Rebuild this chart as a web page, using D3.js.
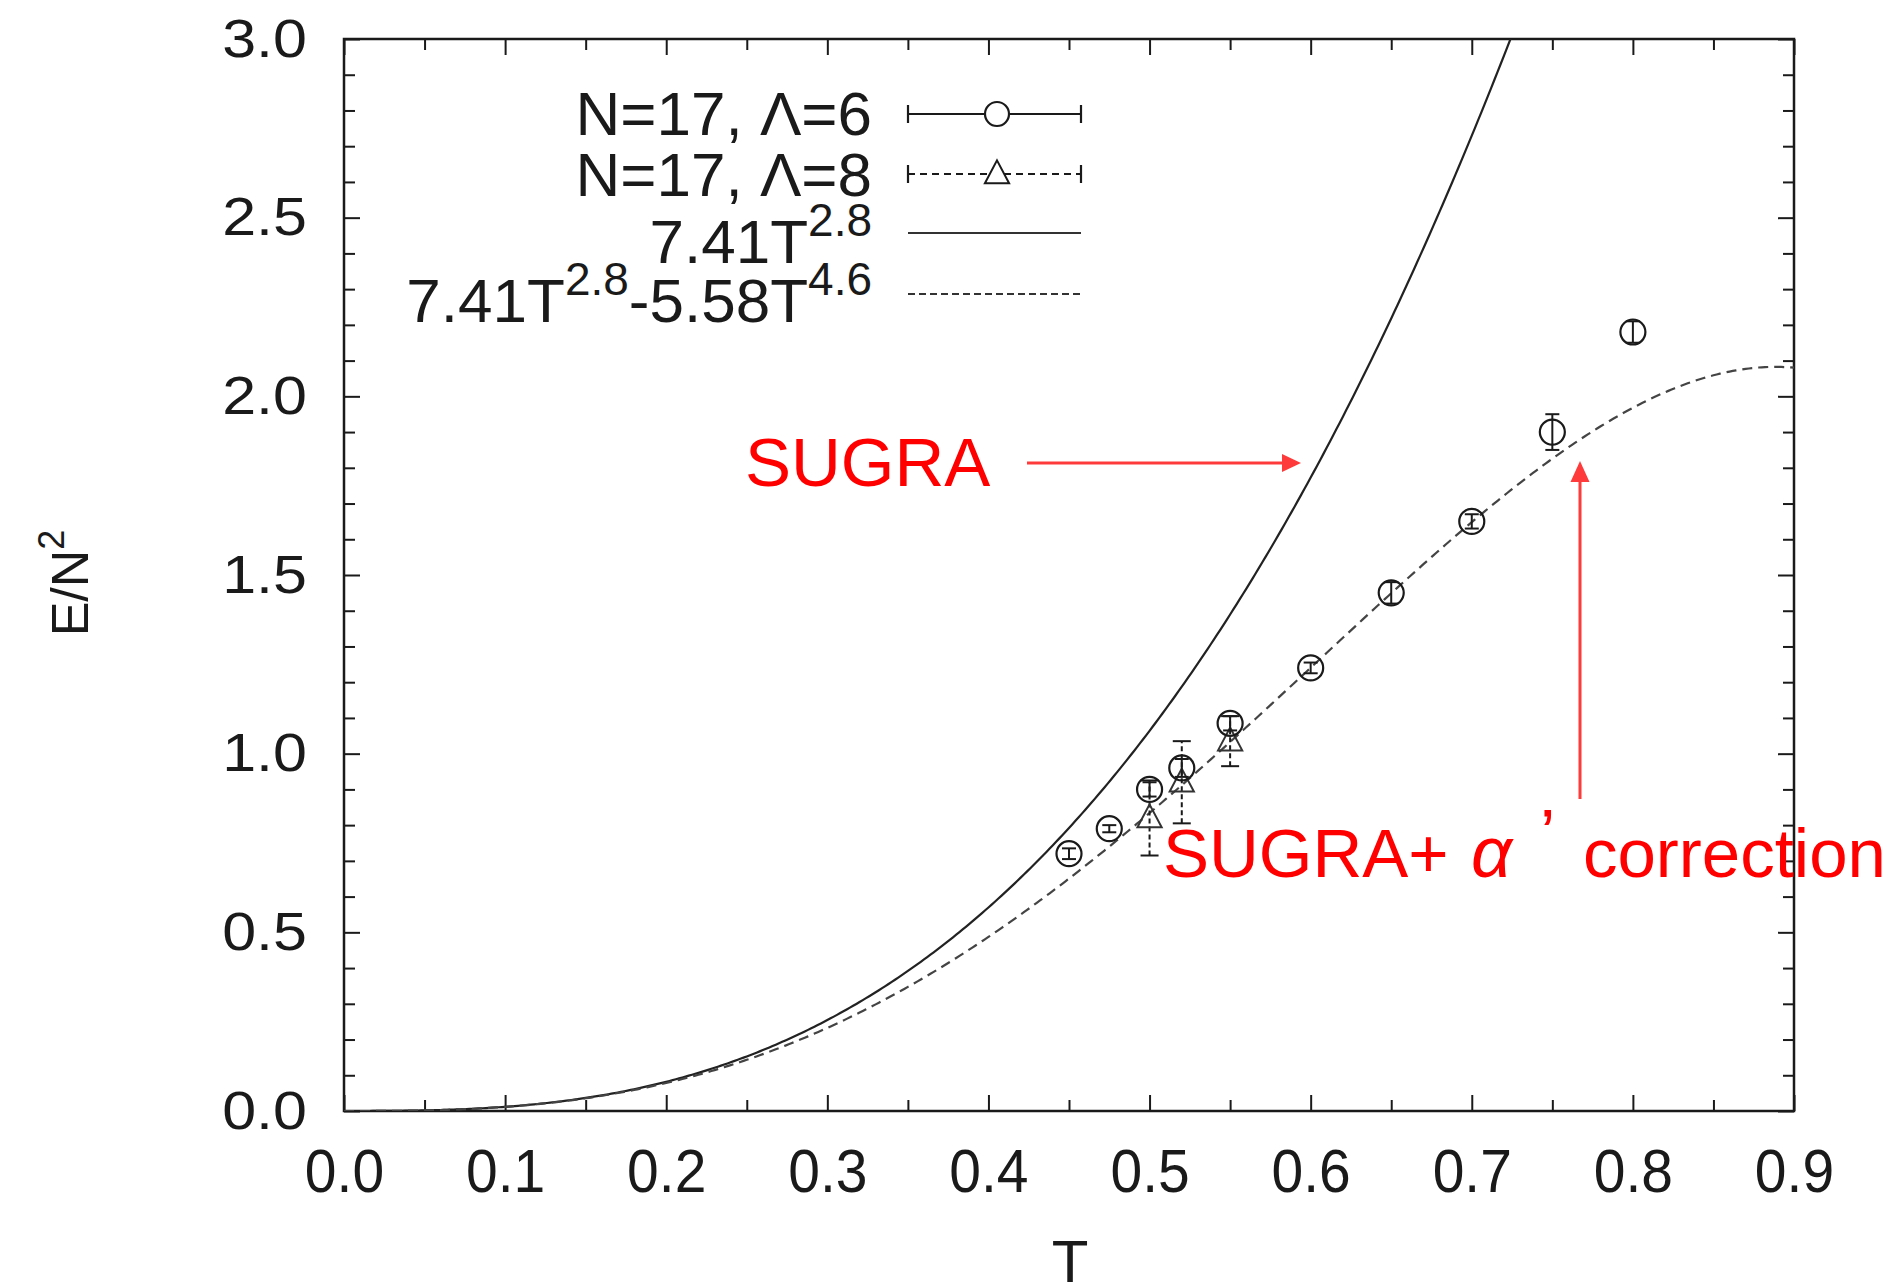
<!DOCTYPE html>
<html>
<head>
<meta charset="utf-8">
<script src="https://cdn.jsdelivr.net/npm/d3@7/dist/d3.min.js"></script>
<style>
  html, body { margin: 0; padding: 0; background: #fff; }
  svg { display: block; }
  text { font-family: "Liberation Sans", Arial, Helvetica, sans-serif; }
</style>
</head>
<body>
<svg id="chart" width="1894" height="1283"></svg>
<script>
// Lattice data: energy density E/N^2 versus temperature T
const tempL6 = [0.45, 0.475, 0.50, 0.52, 0.55, 0.60, 0.65, 0.70, 0.75, 0.80];
const energyL6 = [0.72, 0.79, 0.90, 0.96, 1.085, 1.24, 1.45, 1.65, 1.90, 2.18];
const errorL6 = [0.015, 0.01, 0.02, 0.025, 0.02, 0.015, 0.03, 0.02, 0.05, 0.03];

const tempL8 = [0.50, 0.52, 0.55];
const energyL8 = [0.82, 0.92, 1.035];
const errorL8 = [0.105, 0.115, 0.07];

// Fit curves: a*T^p  and  a*T^p - b*T^q
const sugraCoef = [7.41, 2.8];
const correctedCoef = [7.41, 2.8, 5.58, 4.6];

const xMajorTicks = [0.0, 0.1, 0.2, 0.3, 0.4, 0.5, 0.6, 0.7, 0.8, 0.9];
const xMinorTicks = [0.05, 0.15, 0.25, 0.35, 0.45, 0.55, 0.65, 0.75, 0.85];
const yMajorTicks = [0.0, 0.5, 1.0, 1.5, 2.0, 2.5, 3.0];
const yMinorTicks = [0.1, 0.2, 0.3, 0.4, 0.6, 0.7, 0.8, 0.9, 1.1, 1.2, 1.3, 1.4,
                     1.6, 1.7, 1.8, 1.9, 2.1, 2.2, 2.3, 2.4, 2.6, 2.7, 2.8, 2.9];

const svg = d3.select("#chart");
const plotL = 344, plotR = 1794, plotT = 39, plotB = 1111;

const x = d3.scaleLinear().domain([0, 0.9]).range([plotL, plotR]);
const y = d3.scaleLinear().domain([0, 3]).range([plotB, plotT]);

const ink = "#1a1a1a";

svg.append("defs").append("clipPath").attr("id", "plotClip")
  .append("rect").attr("x", plotL).attr("y", plotT)
  .attr("width", plotR - plotL).attr("height", plotB - plotT);

// ---- axes (ticks point inward, mirrored on all four sides) ----
function styleAxis(g) {
  g.select(".domain").remove();
  g.selectAll(".tick line").attr("stroke", ink).attr("stroke-width", 2);
}

const MAJ = 16, MIN = 11;

svg.append("g").attr("transform", `translate(0,${plotB})`)
  .call(d3.axisBottom(x).tickValues(xMajorTicks).tickSizeInner(-MAJ).tickSizeOuter(0)
    .tickPadding(37).tickFormat(d3.format(".1f")))
  .call(styleAxis)
  .call(g => g.selectAll("text")
    .attr("fill", ink).attr("font-size", 62)
    .attr("font-family", "'Liberation Sans', Arial, sans-serif")
    .attr("transform", "scale(0.92,1)"));

svg.append("g").attr("transform", `translate(0,${plotB})`)
  .call(d3.axisBottom(x).tickValues(xMinorTicks).tickSizeInner(-MIN).tickSizeOuter(0).tickFormat(""))
  .call(styleAxis);

svg.append("g").attr("transform", `translate(0,${plotT})`)
  .call(d3.axisTop(x).tickValues(xMajorTicks).tickSizeInner(-MAJ).tickSizeOuter(0).tickFormat(""))
  .call(styleAxis);
svg.append("g").attr("transform", `translate(0,${plotT})`)
  .call(d3.axisTop(x).tickValues(xMinorTicks).tickSizeInner(-MIN).tickSizeOuter(0).tickFormat(""))
  .call(styleAxis);

const ySx = 1.13;
svg.append("g").attr("transform", `translate(${plotL},0)`)
  .call(d3.axisLeft(y).tickValues(yMajorTicks).tickSizeInner(-MAJ).tickSizeOuter(0)
    .tickFormat(d3.format(".1f")))
  .call(styleAxis)
  .call(g => g.selectAll("text")
    .attr("fill", ink).attr("font-size", 54)
    .attr("font-family", "'Liberation Sans', Arial, sans-serif")
    .attr("x", -37 / ySx)
    .attr("transform", `scale(${ySx},1)`));
svg.append("g").attr("transform", `translate(${plotL},0)`)
  .call(d3.axisLeft(y).tickValues(yMinorTicks).tickSizeInner(-MIN).tickSizeOuter(0).tickFormat(""))
  .call(styleAxis);

svg.append("g").attr("transform", `translate(${plotR},0)`)
  .call(d3.axisRight(y).tickValues(yMajorTicks).tickSizeInner(-MAJ).tickSizeOuter(0).tickFormat(""))
  .call(styleAxis);
svg.append("g").attr("transform", `translate(${plotR},0)`)
  .call(d3.axisRight(y).tickValues(yMinorTicks).tickSizeInner(-MIN).tickSizeOuter(0).tickFormat(""))
  .call(styleAxis);

// frame
svg.append("rect").attr("x", plotL).attr("y", plotT)
  .attr("width", plotR - plotL).attr("height", plotB - plotT)
  .attr("fill", "none").attr("stroke", ink).attr("stroke-width", 2.5);

// axis titles
const yTitle = svg.append("text")
  .attr("transform", "translate(88,583) rotate(-90)")
  .attr("text-anchor", "middle").attr("font-size", 52).attr("fill", ink);
yTitle.append("tspan").text("E/N");
yTitle.append("tspan").attr("font-size", 36).attr("dy", -24).text("2");

svg.append("text").attr("x", 1070).attr("y", 1282)
  .attr("text-anchor", "middle").attr("font-size", 60).attr("fill", ink).text("T");

// ---- fit curves ----
const tGrid = d3.range(0, 0.9001, 0.002);
const sugra = t => sugraCoef[0] * Math.pow(t, sugraCoef[1]);
const corrected = t => correctedCoef[0] * Math.pow(t, correctedCoef[1])
                     - correctedCoef[2] * Math.pow(t, correctedCoef[3]);

const line = f => d3.line().x(t => x(t)).y(t => y(f(t)))(tGrid);

const curves = svg.append("g").attr("clip-path", "url(#plotClip)");
curves.append("path").attr("d", line(sugra))
  .attr("fill", "none").attr("stroke", "#222").attr("stroke-width", 2.2);
curves.append("path").attr("d", line(corrected))
  .attr("fill", "none").attr("stroke", "#444").attr("stroke-width", 2.2)
  .attr("stroke-dasharray", "10,6");

// ---- data points with error bars ----
function errorBar(g, cx, lo, hi, cap, dashed) {
  const s = g.append("g").attr("stroke", ink).attr("stroke-width", 2);
  s.append("line").attr("x1", cx).attr("x2", cx).attr("y1", lo).attr("y2", hi)
    .attr("stroke-dasharray", dashed ? "5,3" : null);
  s.append("line").attr("x1", cx - cap).attr("x2", cx + cap).attr("y1", lo).attr("y2", lo);
  s.append("line").attr("x1", cx - cap).attr("x2", cx + cap).attr("y1", hi).attr("y2", hi);
}

const triPath = (cx, cy, s) =>
  `M${cx},${cy - s * 0.62}L${cx + s * 0.55},${cy + s * 0.42}L${cx - s * 0.55},${cy + s * 0.42}Z`;

const pts = svg.append("g");
tempL8.forEach((t, i) => {
  const cx = x(t), cy = y(energyL8[i]);
  errorBar(pts, cx, y(energyL8[i] - errorL8[i]), y(energyL8[i] + errorL8[i]), 9, true);
  pts.append("path").attr("d", triPath(cx, cy, 22))
    .attr("fill", "none").attr("stroke", "#333").attr("stroke-width", 2);
});
tempL6.forEach((t, i) => {
  const cx = x(t), cy = y(energyL6[i]);
  errorBar(pts, cx, y(energyL6[i] - errorL6[i]), y(energyL6[i] + errorL6[i]), 7, false);
  pts.append("circle").attr("cx", cx).attr("cy", cy).attr("r", 12.5)
    .attr("fill", "none").attr("stroke", ink).attr("stroke-width", 2.2);
});

// ---- legend ----
const legend = svg.append("g").attr("fill", ink).attr("font-size", 62);
const lgTextX = 872, lgX1 = 908, lgX2 = 1081, lgMid = 997;
const rows = [135, 196, 263, 322];
const rowLine = [114, 174, 233, 294];

legend.append("text").attr("x", lgTextX).attr("y", rows[0]).attr("text-anchor", "end")
  .text("N=17, \u039B=6");
legend.append("text").attr("x", lgTextX).attr("y", rows[1]).attr("text-anchor", "end")
  .text("N=17, \u039B=8");
const r3 = legend.append("text").attr("x", lgTextX).attr("y", rows[2]).attr("text-anchor", "end");
r3.append("tspan").text("7.41T");
r3.append("tspan").attr("font-size", 46).attr("dy", -27).text("2.8");
const r4 = legend.append("text").attr("x", lgTextX).attr("y", rows[3]).attr("text-anchor", "end");
r4.append("tspan").text("7.41T");
r4.append("tspan").attr("font-size", 46).attr("dy", -27).text("2.8");
r4.append("tspan").attr("dy", 27).text("-5.58T");
r4.append("tspan").attr("font-size", 46).attr("dy", -27).text("4.6");

function legendBar(yy, dashed) {
  const g = legend.append("g").attr("stroke", ink).attr("stroke-width", 2.2);
  g.append("line").attr("x1", lgX1).attr("x2", lgX2).attr("y1", yy).attr("y2", yy)
    .attr("stroke-dasharray", dashed ? "7,5" : null);
  g.append("line").attr("x1", lgX1).attr("x2", lgX1).attr("y1", yy - 9).attr("y2", yy + 9);
  g.append("line").attr("x1", lgX2).attr("x2", lgX2).attr("y1", yy - 9).attr("y2", yy + 9);
}
legendBar(rowLine[0], false);
legend.append("circle").attr("cx", lgMid).attr("cy", rowLine[0]).attr("r", 12)
  .attr("fill", "#fff").attr("stroke", ink).attr("stroke-width", 2.2);
legendBar(rowLine[1], true);
legend.append("path").attr("d", triPath(lgMid, rowLine[1], 22))
  .attr("fill", "#fff").attr("stroke", ink).attr("stroke-width", 2);
legend.append("line").attr("x1", lgX1).attr("x2", lgX2).attr("y1", rowLine[2]).attr("y2", rowLine[2])
  .attr("stroke", "#333").attr("stroke-width", 2.2);
legend.append("line").attr("x1", lgX1).attr("x2", lgX2).attr("y1", rowLine[3]).attr("y2", rowLine[3])
  .attr("stroke", "#333").attr("stroke-width", 2.2).attr("stroke-dasharray", "7,4");

// ---- red annotations ----
const red = "#ff0000", arrowRed = "#ff3a3a";
const ann = svg.append("g");
ann.append("text").attr("x", 745).attr("y", 486).attr("font-size", 69).attr("fill", red).text("SUGRA");
ann.append("line").attr("x1", 1027).attr("x2", 1284).attr("y1", 463).attr("y2", 463)
  .attr("stroke", arrowRed).attr("stroke-width", 3);
ann.append("path").attr("d", "M1301,463L1282,454L1282,472Z").attr("fill", arrowRed);

ann.append("line").attr("x1", 1580).attr("x2", 1580).attr("y1", 799).attr("y2", 478)
  .attr("stroke", arrowRed).attr("stroke-width", 3);
ann.append("path").attr("d", "M1580,461L1570.5,482L1589.5,482Z").attr("fill", arrowRed);

ann.append("text").attr("x", 1163).attr("y", 877).attr("font-size", 69).attr("fill", red).text("SUGRA+");
ann.append("text").attr("x", 1471).attr("y", 877).attr("font-size", 72).attr("fill", red)
  .attr("font-family", "'Liberation Serif', 'Times New Roman', serif")
  .attr("font-style", "italic").text("\u03B1");
ann.append("text").attr("x", 1540).attr("y", 857).attr("font-size", 69).attr("fill", red).text("\u2019");
ann.append("text").attr("x", 1583).attr("y", 877).attr("font-size", 69).attr("fill", red).text("correction");
</script>
</body>
</html>
